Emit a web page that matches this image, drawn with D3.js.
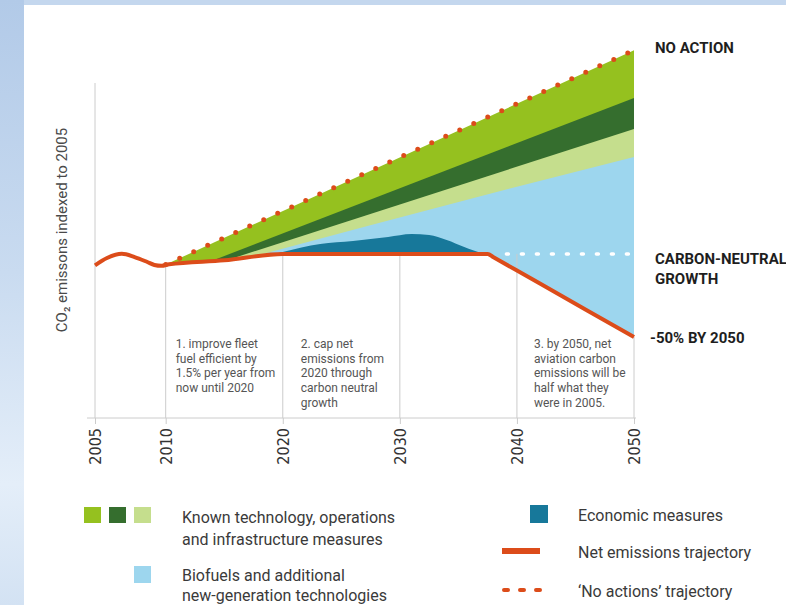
<!DOCTYPE html>
<html>
<head>
<meta charset="utf-8">
<script src="https://cdn.jsdelivr.net/npm/d3@7"></script>
<style>
  html, body { margin: 0; padding: 0; background: #ffffff; }
  svg { display: block; }
</style>
</head>
<body>
<svg id="chart" width="786" height="605"></svg>
<script>
// ---- data: CO2 emissions indexed to 2005 (2005 = 100) ----
const axisYears = [2005, 2010, 2020, 2030, 2040, 2050];

// net emissions trajectory
const netTrajectory = [
  [2005, 100.5], [2005.85, 105.6], [2006.9, 108.6], [2007.8, 106.3],
  [2008.7, 102.8], [2009.2, 100.7], [2009.7, 100.1], [2010.3, 101.2],
  [2015, 104], [2020, 108.5], [2037.5, 108.5], [2038, 106.16],
  [2042, 87.44], [2046, 68.72], [2050, 50]
];

// upper edges of each mitigation band
const noActionTrajectory = [[2010, 101], [2050, 252]];
const knownTechDarkTop = [[2013.8, 103.2], [2050, 218.3]];
const knownTechLightTop = [[2015.3, 104.3], [2050, 196.5]];
const biofuelsTop = [[2017.2, 106], [2036.8, 149], [2050, 176.8]];
const economicTop = [
  [2018.8, 107.3], [2020, 109.9], [2023.2, 115.5], [2026, 117.6],
  [2029, 120.4], [2031, 122.5], [2032.5, 121.8], [2034, 118.3],
  [2035.5, 113.4], [2037, 109.2], [2037.5, 108.5]
];
const carbonNeutralLevel = [[2039.1, 108.5], [2050, 108.5]];

// vertical guide lines and where they start
const gridYears = [2010, 2020, 2030, 2040, 2050];
const gridTops = [101, 108.5, 108.5, 108.5, 50];

// text
const yTitle = "CO\u2082 emissons indexed to 2005";
const endLabels = ["NO ACTION", "CARBON-NEUTRAL", "GROWTH", "-50% BY 2050"];
const notes = [
  ["1. improve fleet", "fuel efficient by", "1.5% per year from", "now until 2020"],
  ["2. cap net", "emissions from", "2020 through", "carbon neutral", "growth"],
  ["3. by 2050, net", "aviation carbon", "emissions will be", "half what they", "were in 2005."]
];
const noteYears = [2010, 2020, 2040];
const legendLeft = [
  ["Known technology, operations", "and infrastructure measures"],
  ["Biofuels and additional", "new-generation technologies"]
];
const legendRight = ["Economic measures", "Net emissions trajectory", "\u2018No actions\u2019 trajectory"];

// ---- styles ----
const colors = {
  green: "#95c11f", darkGreen: "#356e2e", lightGreen: "#c5de8d",
  lightBlue: "#9dd6ee", teal: "#17789a", orange: "#dc4c1a",
  grid: "#cccccc", text: "#4a4a4a", bold: "#1e1e1e"
};
const FONT = "Roboto, 'Liberation Sans', sans-serif";
const NARROW = "'Liberation Sans Narrow', 'DejaVu Sans Condensed', Roboto, sans-serif";

const svg = d3.select("#chart");

// page backdrop
const defs = svg.append("defs");
const bg = defs.append("linearGradient").attr("id", "bgGrad")
  .attr("x1", 0).attr("y1", 0).attr("x2", 0).attr("y2", 1);
bg.append("stop").attr("offset", "0%").attr("stop-color", "#b2cae8");
bg.append("stop").attr("offset", "45%").attr("stop-color", "#c9dbf0");
bg.append("stop").attr("offset", "80%").attr("stop-color", "#e4eef9");
bg.append("stop").attr("offset", "100%").attr("stop-color", "#d3e2f3");
svg.append("rect").attr("width", 786).attr("height", 605).attr("fill", "url(#bgGrad)");
svg.append("rect").attr("x", 24).attr("y", 0).attr("width", 762).attr("height", 5).attr("fill", "#c4d7ee");
svg.append("rect").attr("x", 24).attr("y", 5).attr("width", 762).attr("height", 600).attr("fill", "#ffffff");

// ---- scales ----
const x = d3.scaleLinear().domain([2005, 2010, 2050]).range([95, 165.7, 634]);
const y = d3.scaleLinear().domain([0, 250]).range([408, 53]);
const axisY = 418;

// keep the bands above the net trajectory
defs.append("clipPath").attr("id", "aboveNet")
  .append("path")
  .attr("d", d3.area().curve(d3.curveMonotoneX)
    .x(d => x(d[0])).y0(d => y(d[1])).y1(0)(netTrajectory));

const bandArea = d3.area().x(d => x(d[0])).y0(axisY).y1(d => y(d[1]));
const bands = svg.append("g").attr("clip-path", "url(#aboveNet)");
const bandSeries = [
  [noActionTrajectory, colors.green, d3.curveLinear],
  [knownTechDarkTop, colors.darkGreen, d3.curveLinear],
  [knownTechLightTop, colors.lightGreen, d3.curveLinear],
  [biofuelsTop, colors.lightBlue, d3.curveMonotoneX],
  [economicTop, colors.teal, d3.curveMonotoneX]
];
bandSeries.forEach(([data, color, curve]) => {
  bands.append("path").attr("d", bandArea.curve(curve)(data)).attr("fill", color);
});

// guide lines
svg.append("g").selectAll("line").data(gridYears).join("line")
  .attr("x1", d => x(d)).attr("x2", d => x(d))
  .attr("y1", (d, i) => y(gridTops[i])).attr("y2", axisY)
  .attr("stroke", colors.grid).attr("stroke-width", 1);

// axes
svg.append("line").attr("x1", x(2005)).attr("x2", x(2005)).attr("y1", 83).attr("y2", axisY)
  .attr("stroke", colors.grid).attr("stroke-width", 1);
svg.append("line").attr("x1", 87).attr("x2", 636).attr("y1", axisY).attr("y2", axisY)
  .attr("stroke", colors.grid).attr("stroke-width", 1);

const xAxis = svg.append("g").attr("transform", `translate(0,${axisY})`)
  .call(d3.axisBottom(x).tickValues(axisYears).tickSize(6).tickSizeOuter(0).tickFormat(d3.format("d")));
xAxis.select(".domain").remove();
xAxis.selectAll(".tick line").attr("stroke", colors.grid);
xAxis.selectAll(".tick text")
  .attr("transform", "rotate(-90)")
  .attr("text-anchor", "end")
  .attr("x", -10).attr("y", 0).attr("dy", "0.36em")
  .attr("font-family", NARROW).attr("font-size", 16).attr("fill", "#333");

// carbon-neutral growth level
svg.append("path")
  .attr("d", d3.line().x(d => x(d[0])).y(d => y(d[1]))(carbonNeutralLevel))
  .attr("fill", "none").attr("stroke", "#ffffff").attr("stroke-width", 3.5)
  .attr("stroke-linecap", "round").attr("stroke-dasharray", "2 13");

// 'no action' trajectory
svg.append("path")
  .attr("d", d3.line().x(d => x(d[0])).y(d => y(d[1]))(noActionTrajectory))
  .attr("fill", "none").attr("stroke", colors.orange).attr("stroke-width", 5)
  .attr("stroke-linecap", "round").attr("stroke-dasharray", "0 15.4");

// net emissions trajectory
svg.append("path")
  .attr("d", d3.line().curve(d3.curveMonotoneX).x(d => x(d[0])).y(d => y(d[1]))(netTrajectory))
  .attr("fill", "none").attr("stroke", colors.orange).attr("stroke-width", 4)
  .attr("stroke-linejoin", "round");

// y title
svg.append("text")
  .attr("transform", "translate(67,230) rotate(-90)")
  .attr("text-anchor", "middle")
  .attr("font-family", FONT).attr("font-size", 15).attr("fill", colors.text)
  .text(yTitle);

// end labels
const endG = svg.append("g").attr("font-family", FONT).attr("font-weight", 700)
  .attr("font-size", 15).attr("fill", colors.bold);
endG.append("text").attr("x", x(2050) + 21).attr("y", y(252) + 3).text(endLabels[0]);
endG.append("text").attr("x", x(2050) + 21).attr("y", y(108.5) + 10).text(endLabels[1]);
endG.append("text").attr("x", x(2050) + 21).attr("y", y(108.5) + 30).text(endLabels[2]);
endG.append("text").attr("x", x(2050) + 16).attr("y", y(50) + 6).text(endLabels[3]);

// phase notes
const noteOffsets = [10, 18, 17];
notes.forEach((lines, i) => {
  const t = svg.append("text")
    .attr("font-family", FONT).attr("font-size", 12).attr("fill", "#555");
  lines.forEach((line, j) => {
    t.append("tspan").attr("x", x(noteYears[i]) + noteOffsets[i]).attr("y", 348 + j * 14.7).text(line);
  });
});

// legend
const lg = svg.append("g");
[colors.green, colors.darkGreen, colors.lightGreen].forEach((c, i) => {
  lg.append("rect").attr("x", 84 + i * 25).attr("y", 507).attr("width", 17).attr("height", 16).attr("fill", c);
});
lg.append("rect").attr("x", 134).attr("y", 566).attr("width", 17).attr("height", 17).attr("fill", colors.lightBlue);
lg.append("rect").attr("x", 530).attr("y", 505).attr("width", 18).attr("height", 18).attr("fill", colors.teal);
lg.append("line").attr("x1", 502).attr("x2", 540).attr("y1", 551).attr("y2", 551)
  .attr("stroke", colors.orange).attr("stroke-width", 6);
lg.append("line").attr("x1", 504).attr("x2", 540).attr("y1", 590).attr("y2", 590)
  .attr("stroke", colors.orange).attr("stroke-width", 4)
  .attr("stroke-linecap", "round").attr("stroke-dasharray", "4 12");

const legText = lg.append("g").attr("font-family", FONT).attr("font-size", 16).attr("fill", "#3a3a3a");
legendLeft.forEach((lines, i) => {
  lines.forEach((line, j) => {
    legText.append("text").attr("x", 182).attr("y", [523, 581][i] + j * [22, 20][i]).text(line);
  });
});
legendRight.forEach((line, i) => {
  legText.append("text").attr("x", 578).attr("y", [521, 558, 597][i]).text(line);
});
</script>
</body>
</html>
